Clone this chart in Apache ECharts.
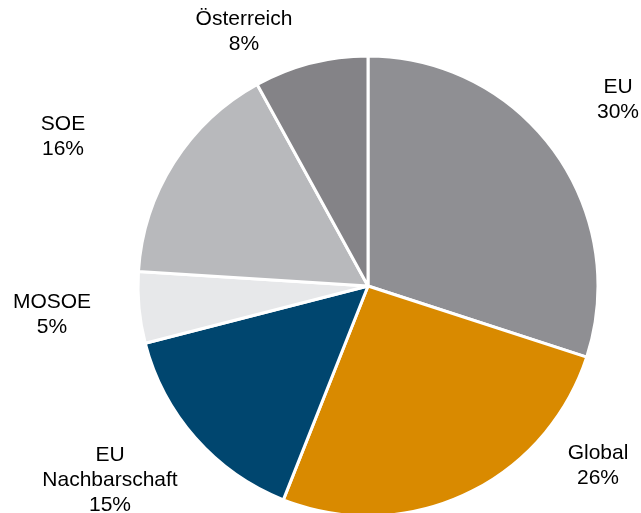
<!DOCTYPE html>
<html>
<head>
<meta charset="utf-8">
<script src="https://cdn.jsdelivr.net/npm/echarts@6/dist/echarts.min.js"></script>
<style>
  html, body { margin: 0; padding: 0; background: #ffffff; }
  #chart { width: 641px; height: 513px; }
</style>
</head>
<body>
<div id="chart"></div>
<script>
// Regions, clockwise from 12 o'clock
const categories = ['EU', 'Global', 'EU\nNachbarschaft', 'MOSOE', 'SOE', 'Österreich'];
const shares = [30, 26, 15, 5, 16, 8];
const colors = ['#8f8f93', '#d98a00', '#00466f', '#e7e8ea', '#b8b9bc', '#848387'];

// Where each label block is centred
const labelSpots = [[618, 100], [598, 466], [110, 480], [52, 315], [63, 137], [244, 32]];

const chart = echarts.init(document.getElementById('chart'), null, { renderer: 'canvas' });

chart.setOption({
  animation: false,
  series: [{
    type: 'pie',
    center: [368, 286],
    radius: 230,
    startAngle: 90,
    clockwise: true,
    avoidLabelOverlap: false,
    data: categories.map((name, i) => ({
      name: name,
      value: shares[i],
      itemStyle: { color: colors[i] }
    })),
    itemStyle: { borderColor: '#ffffff', borderWidth: 3 },
    label: {
      show: true,
      position: 'outside',
      formatter: p => p.name + '\n' + p.value + '%',
      fontFamily: 'Liberation Sans, Arial, sans-serif',
      fontSize: 21,
      lineHeight: 25,
      color: '#000000',
      align: 'center'
    },
    labelLine: { show: false },
    labelLayout: p => ({
      x: labelSpots[p.dataIndex][0],
      y: labelSpots[p.dataIndex][1],
      align: 'center',
      verticalAlign: 'middle'
    }),
    emphasis: { disabled: true }
  }]
});
</script>
</body>
</html>
